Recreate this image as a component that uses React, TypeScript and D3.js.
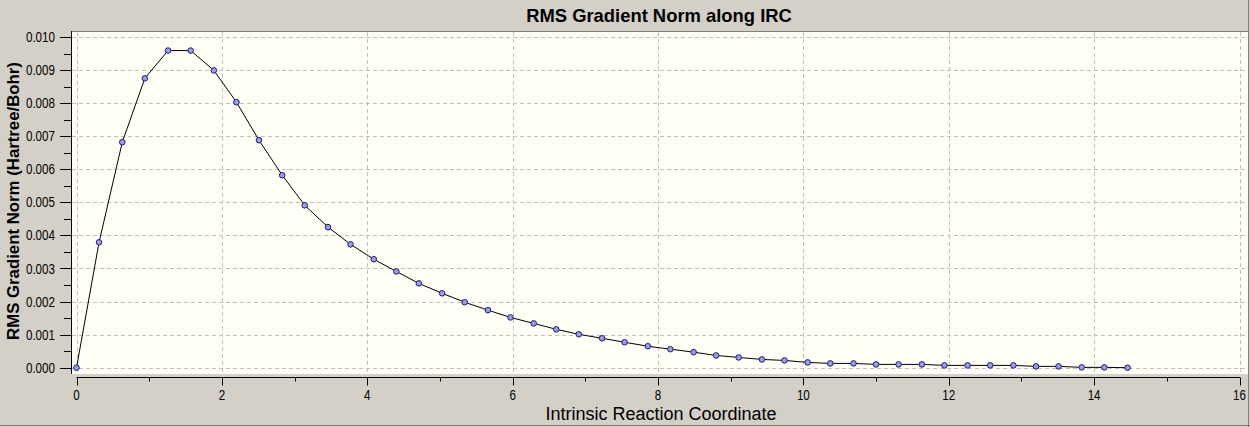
import React from "react";
import * as d3 from "d3";

// IRC points
const ircCoord = [
  0, 0.31, 0.63, 0.94, 1.26, 1.57, 1.89, 2.2, 2.51, 2.83, 3.14, 3.46, 3.77, 4.09, 4.4, 4.71,
  5.03, 5.34, 5.66, 5.97, 6.29, 6.6, 6.91, 7.23, 7.54, 7.86, 8.17, 8.49, 8.8, 9.11, 9.43,
  9.74, 10.06, 10.37, 10.69, 11.0, 11.31, 11.63, 11.94, 12.26, 12.57, 12.89, 13.2, 13.51,
  13.83, 14.14, 14.46,
];
const rmsGrad = [
  0, 0.00379, 0.00682, 0.00875, 0.00959, 0.00959, 0.00899, 0.00803, 0.00688, 0.00582,
  0.00491, 0.00425, 0.00373, 0.00328, 0.00291, 0.00255, 0.00225, 0.00198, 0.00174,
  0.00152, 0.00134, 0.00116, 0.00101, 0.00089, 0.00077, 0.00065, 0.00056, 0.00047,
  0.00037, 0.00031, 0.00025, 0.00022, 0.00016, 0.00013, 0.00013, 0.0001, 0.0001, 0.0001,
  0.00007, 0.00007, 0.00007, 0.00007, 0.00004, 0.00004, 0.00001, 0.00001, 0,
];
const xMajor = [0, 2, 4, 6, 8, 10, 12, 14, 16];
const xMinor = [1, 3, 5, 7, 9, 11, 13, 15];
const yMajor = [0, 0.001, 0.002, 0.003, 0.004, 0.005, 0.006, 0.007, 0.008, 0.009, 0.01];
const yMinor = [0.0005, 0.0015, 0.0025, 0.0035, 0.0045, 0.0055, 0.0065, 0.0075, 0.0085, 0.0095];

const W = 1250;
const H = 427;
const panel = { left: 71, top: 31, right: 1248, bottom: 374 };
const font = "'Liberation Sans', Arial, sans-serif";
// no narrow face installed, so tick labels get squeezed horizontally
const tickSqueeze = 0.83;

export default function App() {
  const x = d3.scaleLinear().domain([0, 16]).range([76.5, 1239.5]);
  const y = d3.scaleLinear().domain([0, 0.01]).range([367.7, 37]);
  const pts = ircCoord.map((c, i) => [c, rmsGrad[i]]);
  const line = d3
    .line()
    .x((d) => x(d[0]))
    .y((d) => y(d[1]));
  const axisY = 377.5;

  return (
    <svg
      width={W}
      height={H}
      style={{ position: "fixed", left: 0, top: 0, display: "block" }}
    >
      <rect x={0} y={0} width={W} height={H} fill="#d4d0c8" />
      <line x1={0} x2={W} y1={H - 1.5} y2={H - 1.5} stroke="#808080" />
      <line x1={W - 1.5} x2={W - 1.5} y1={0} y2={H} stroke="#808080" />

      {/* plot panel */}
      <rect
        x={panel.left}
        y={panel.top}
        width={panel.right - panel.left}
        height={panel.bottom - panel.top}
        fill="#fffff6"
      />
      <line x1={panel.left} x2={panel.right} y1={panel.bottom - 0.5} y2={panel.bottom - 0.5} stroke="#ffffff" />
      <line x1={panel.right - 0.5} x2={panel.right - 0.5} y1={panel.top} y2={panel.bottom} stroke="#ffffff" />
      <line x1={panel.left} x2={panel.right} y1={panel.top + 0.5} y2={panel.top + 0.5} stroke="#808080" />

      {/* grid */}
      {xMajor.map((t) => (
        <line
          key={"gx" + t}
          x1={Math.round(x(t)) + 0.5}
          x2={Math.round(x(t)) + 0.5}
          y1={panel.top + 1}
          y2={panel.bottom - 1}
          stroke="#c0c0c0"
          strokeDasharray="4,3"
        />
      ))}
      {yMajor.map((t) => (
        <line
          key={"gy" + t}
          x1={panel.left + 1}
          x2={panel.right - 1}
          y1={Math.round(y(t)) + 0.5}
          y2={Math.round(y(t)) + 0.5}
          stroke="#c0c0c0"
          strokeDasharray="4,3"
        />
      ))}

      {/* y axis */}
      <line x1={panel.left + 0.5} x2={panel.left + 0.5} y1={panel.top} y2={panel.bottom} stroke="#000" />
      {yMajor.map((t) => (
        <g key={"ty" + t}>
          <line
            x1={panel.left - 11}
            x2={panel.left}
            y1={Math.round(y(t)) + 0.5}
            y2={Math.round(y(t)) + 0.5}
            stroke="#000"
          />
          <text
            transform={`translate(${panel.left - 16},${y(t)}) scale(${tickSqueeze},1)`}
            dy="0.36em"
            textAnchor="end"
            fontFamily={font}
            fontSize={14}
            fill="#000"
          >
            {d3.format(".3f")(t)}
          </text>
        </g>
      ))}
      {yMinor.map((t) => (
        <line
          key={"my" + t}
          x1={panel.left - 7}
          x2={panel.left}
          y1={Math.round(y(t)) + 0.5}
          y2={Math.round(y(t)) + 0.5}
          stroke="#000"
        />
      ))}

      {/* x axis */}
      <line x1={x(0)} x2={x(16) + 0.5} y1={axisY} y2={axisY} stroke="#000" />
      {xMajor.map((t) => (
        <g key={"tx" + t}>
          <line
            x1={Math.round(x(t)) + 0.5}
            x2={Math.round(x(t)) + 0.5}
            y1={axisY}
            y2={axisY + 8}
            stroke="#000"
          />
          <text
            transform={`translate(${x(t)},395) scale(${tickSqueeze},1)`}
            dy="0.36em"
            textAnchor="middle"
            fontFamily={font}
            fontSize={14}
            fill="#000"
          >
            {t}
          </text>
        </g>
      ))}
      {xMinor.map((t) => (
        <line
          key={"mx" + t}
          x1={Math.round(x(t)) + 0.5}
          x2={Math.round(x(t)) + 0.5}
          y1={axisY}
          y2={axisY + 4}
          stroke="#000"
        />
      ))}

      {/* series */}
      <path d={line(pts)} fill="none" stroke="#000" strokeWidth={1} />
      {pts.map((d, i) => (
        <circle
          key={i}
          cx={x(d[0])}
          cy={y(d[1])}
          r={2.8}
          fill="#9c9cec"
          stroke="#1c1c78"
          strokeWidth={1}
        />
      ))}

      {/* titles */}
      <text
        x={659}
        y={15}
        dy="0.36em"
        textAnchor="middle"
        fontFamily={font}
        fontWeight="bold"
        fontSize={18.4}
        fill="#000"
      >
        RMS Gradient Norm along IRC
      </text>
      <text
        x={661}
        y={414}
        dy="0.36em"
        textAnchor="middle"
        fontFamily={font}
        fontSize={18}
        fill="#000"
      >
        Intrinsic Reaction Coordinate
      </text>
      <text
        transform={`translate(13, 201) rotate(-90)`}
        dy="0.36em"
        textAnchor="middle"
        fontFamily={font}
        fontWeight="bold"
        fontSize={16.8}
        fill="#000"
      >
        RMS Gradient Norm (Hartree/Bohr)
      </text>
    </svg>
  );
}
